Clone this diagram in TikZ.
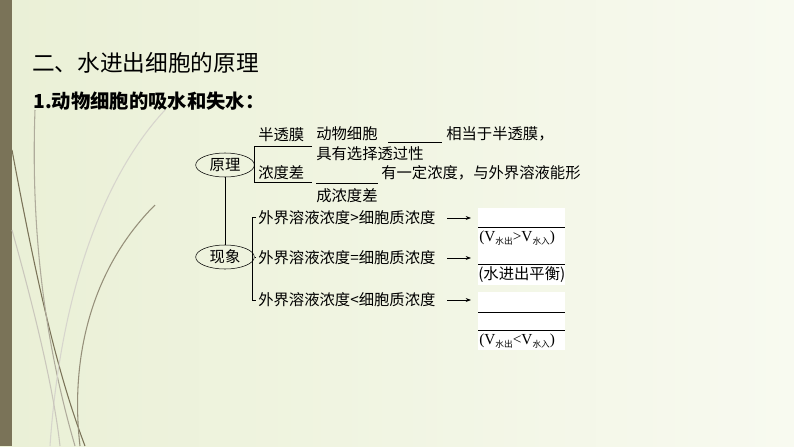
\documentclass[tikz,border=0pt]{standalone}
\usepackage{fontspec}
\setmainfont{Liberation Serif}
\newfontfamily\cjk{Noto Sans CJK SC}
\usetikzlibrary{positioning,arrows.meta,shapes.geometric}
\definecolor{barcol}{RGB}{122,115,88}
\definecolor{bgleft}{RGB}{234,240,214}
\definecolor{bgright}{RGB}{248,250,240}
\newcommand{\sub}[1]{\raisebox{-0.35ex}{\fontsize{6.5}{7}\selectfont\cjk #1}}
\begin{document}
\begin{tikzpicture}[x=0.75pt,y=-0.75pt,
    txt/.style={anchor=west,inner sep=0pt,font=\cjk\fontsize{11.5}{13}\selectfont},
    ell/.style={draw,ellipse,inner sep=1pt,minimum width=44pt,minimum height=18pt,font=\cjk\fontsize{11.5}{13}\selectfont},
    ln/.style={line width=0.6pt},
    blank/.style={line width=0.6pt},
    arr/.style={-{Stealth[length=4pt]},line width=0.6pt},
    curve/.style={line width=0.8pt,draw=barcol}]
  % background
  \shade[left color=bgleft,right color=bgright] (0,0) rectangle (794,446);
  \fill[barcol] (0,0) rectangle (12,446);
  \draw[curve] (12,150) .. controls (40,300) and (60,380) .. (85,446);
  \draw[curve,draw=barcol!60] (35,110) .. controls (30,250) and (50,360) .. (75,446);
  \draw[curve,draw=barcol!80] (155,205) .. controls (90,270) and (70,360) .. (80,446);
  \draw[curve,draw=barcol!30] (165,110) .. controls (100,180) and (60,300) .. (50,446);
  \draw[curve,draw=barcol!40] (12,230) .. controls (40,330) and (55,400) .. (60,446);
  % titles
  \node[anchor=west,inner sep=0pt,font=\cjk\fontsize{17}{19}\selectfont] (title) at (32,63) {二、水进出细胞的原理};
  \node[anchor=west,inner sep=0pt,font=\cjk\bfseries\fontsize{14.5}{16}\selectfont] (sub) at (33,101) {1.动物细胞的吸水和失水：};
  % answer areas
  \fill[white] (478,208) rectangle (565,250);
  \fill[white] (478,250) rectangle (565,285);
  \fill[white] (478,292) rectangle (565,350);
  % ellipses
  \node[ell] (yl) at (225,165) {原理};
  \node[ell] (xx) at (225,257) {现象};
  \draw[ln] (yl) -- (xx);
  % principle bracket
  \coordinate (b1) at (254,165);
  \draw[ln] (yl.east) -- (b1);
  \draw[ln] (312,146) -- (254,146) -- (254,182) -- (312,182);
  \node[txt] (btm) at (258,135) {半透膜};
  \node[txt] (ndc) at (258,173) {浓度差};
  \node[txt] (r1) at (316,134) {动物细胞};
  \coordinate (k1a) at (388,142); \coordinate (k1b) at (442,142);
  \draw[blank] (k1a) -- (k1b);
  \node[txt] (r1b) at (446,134) {相当于半透膜，};
  \node[txt] (r2) at (316,154) {具有选择透过性};
  \coordinate (k2a) at (316,183); \coordinate (k2b) at (378,183);
  \draw[blank] (k2a) -- (k2b);
  \node[txt] (r3) at (381,173) {有一定浓度，与外界溶液能形};
  \node[txt] (r4) at (316,196) {成浓度差};
  % phenomenon bracket
  \draw[ln] (256,217) -- (252,217) -- (252,300) -- (256,300);
  \draw[ln] (xx.east) -- (256,257);
  \node[txt] (p1) at (258,218) {外界溶液浓度>细胞质浓度};
  \node[txt] (p2) at (258,258) {外界溶液浓度=细胞质浓度};
  \node[txt] (p3) at (258,300) {外界溶液浓度<细胞质浓度};
  \coordinate (a1) at (471,218);
  \coordinate (a2) at (471,258);
  \coordinate (a3) at (471,300);
  \draw[arr] (447,218) -- (a1);
  \draw[arr] (447,258) -- (a2);
  \draw[arr] (447,300) -- (a3);
  % answers
  \draw[blank] (478,227) -- (565,227);
  \node[txt,font=\fontsize{11.5}{13}\selectfont] (q1) at (479,238) {(V\sub{水出}>V\sub{水入})};
  \draw[blank] (478,264) -- (565,264);
  \node[txt] (q2) at (478,275) {(水进出平衡)};
  \draw[blank] (478,312) -- (565,312);
  \draw[blank] (478,330) -- (565,330);
  \node[txt,font=\fontsize{11.5}{13}\selectfont] (q3) at (479,341) {(V\sub{水出}<V\sub{水入})};
\end{tikzpicture}
\end{document}
